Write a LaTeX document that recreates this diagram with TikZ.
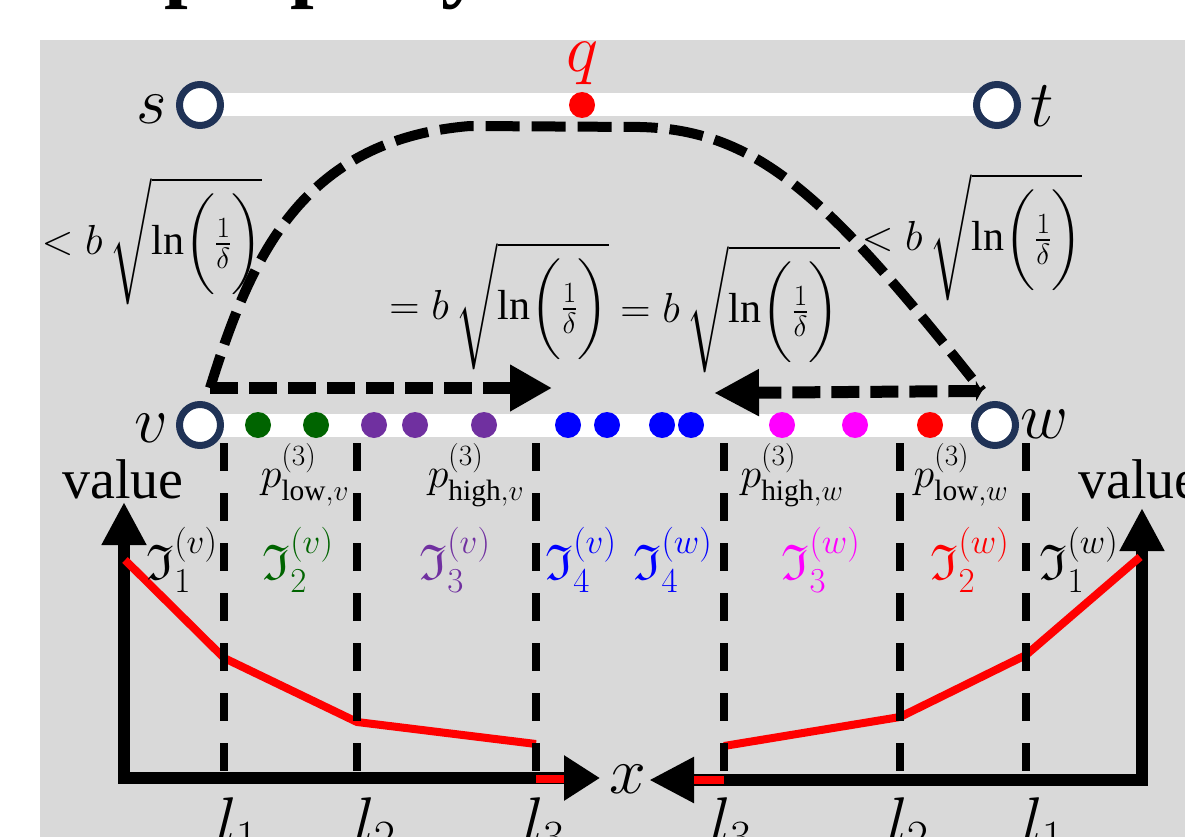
\RequirePackage{fix-cm}
\documentclass[tikz,border=0pt]{standalone}
\usepackage{amsmath,amssymb}
\usepackage{fontspec}
\setmainfont{Liberation Serif}
\DeclareFontFamily{U}{euf}{}
\DeclareFontShape{U}{euf}{m}{n}{<->eufm10}{}
\DeclareFontShape{U}{euf}{b}{n}{<->eufb10}{}
\usetikzlibrary{arrows.meta,backgrounds}
\definecolor{bggray}{HTML}{D9D9D9}
\definecolor{navy}{HTML}{1F3256}
\definecolor{dgreen}{HTML}{006400}
\definecolor{purp}{HTML}{7030A0}
\definecolor{magn}{HTML}{FF00FF}
\newcommand{\myfs}[1]{\fontsize{#1}{#1}\selectfont}
\newcommand{\bnd}[1]{\myfs{42}$#1 b\,\sqrt{\ln\biggl(\frac{1}{\delta}\biggr)}$}
\begin{document}
\begin{tikzpicture}[x=1pt,y=-1pt,
 vert/.style={circle,draw=navy,line width=7pt,fill=white,minimum size=41pt,inner sep=0pt},
 dotc/.style={circle,fill=#1,minimum size=26pt,inner sep=0pt},
 whiteedge/.style={white,line width=23pt},
 curvedash/.style={line width=10pt,dash pattern=on 34pt off 12pt},
 harrow/.style={line width=12pt,dash pattern=on 28pt off 11pt},
 vdash/.style={line width=8pt,dash pattern=on 28pt off 22pt},
 axisline/.style={line width=12pt,line join=miter},
 redline/.style={red,line width=8pt},
 lbl/.style={inner sep=0pt},
]
\useasboundingbox (0,0) rectangle (1185,837);
% vertices
\node[vert] (s) at (200,105) {};
\node[vert] (t) at (997,105) {};
\node[vert] (v) at (200,425) {};
\node[vert] (w) at (995,425) {};
\begin{scope}[on background layer]
 \fill[white] (0,0) rectangle (1185,837);
 \fill[bggray] (40,40) rectangle (1185,837);
 \begin{scope}
  \clip (0,0) rectangle (1185,837);
  \node[lbl,anchor=base west] (title) at (164,-8.5) {\myfs{85}\bfseries property};
 \end{scope}
 \draw[whiteedge] (s.center) -- (t.center);
 \draw[whiteedge] (v.center) -- (w.center);
\end{scope}
% q
\node[dotc=red] (q) at (582,105) {};
\node[lbl,text=red] (ql) at (582,63) {\myfs{68}$q$};
% dots on v-w
\node[dotc=dgreen] (g1) at (258,425) {};
\node[dotc=dgreen] (g2) at (316,425) {};
\node[dotc=purp] (p1) at (374,425) {};
\node[dotc=purp] (p2) at (415,425) {};
\node[dotc=purp] (p3) at (484,425) {};
\node[dotc=blue] (b1) at (568,425) {};
\node[dotc=blue] (b2) at (607,425) {};
\node[dotc=blue] (b3) at (662,425) {};
\node[dotc=blue] (b4) at (691,425) {};
\node[dotc=magn] (m1) at (782,425) {};
\node[dotc=magn] (m2) at (855,425) {};
\node[dotc=red] (r1) at (930,425) {};
% labels of vertices
\node[lbl] (sl) at (152,109) {\myfs{66}$s$};
\node[lbl] (tl) at (1042,106) {\myfs{66}$t$};
\node[lbl] (vl) at (151,428) {\myfs{66}$v$};
\node[lbl] (wl) at (1044,424) {\myfs{66}$w$};
% dashed curve and arrows
\coordinate (cl) at (210,388);
\coordinate (cr) at (982,391);
\coordinate (la) at (552,388);
\coordinate (ra) at (714,393);
\draw[curvedash] (cl) .. controls (250,260) and (300,140) .. (470,126) -- (640,127) .. controls (760,130) and (830,200) .. (cr);
\draw[harrow,-{Triangle[length=42pt,width=44pt]}] (cl) -- (la);
\draw[harrow,{Triangle[length=6pt,width=20pt]}-{Triangle[length=45pt,width=44pt]}] (cr) -- (ra);
% bound labels
\node[lbl] (L1) at (152,241) {\bnd{<}};
\node[lbl] (L2) at (499,306) {\bnd{=}};
\node[lbl] (L3) at (730,309) {\bnd{=}};
\node[lbl] (L4) at (972,237) {\bnd{<}};
% axes
\coordinate (ylt) at (124,502);
\coordinate (o1) at (124,778);
\coordinate (xlt) at (600,778);
\coordinate (yrt) at (1142,508);
\coordinate (o2) at (1142,780);
\coordinate (xrt) at (649,780);
\draw[axisline,{Triangle[length=43pt,width=42pt]}-{Triangle[length=36pt,width=43pt]}] (ylt) -- (o1) -- (xlt);
\draw[axisline,{Triangle[length=43pt,width=42pt]}-{Triangle[length=45pt,width=43pt]}] (yrt) -- (o2) -- (xrt);
\node[lbl] (xl) at (628,779) {\myfs{66}$x$};
% red value curves
\draw[redline] (125,560) -- (224,658) -- (357,722) -- (536,744);
\draw[redline] (724,746) -- (900,717) -- (1026,655) -- (1140,557);
\draw[redline] (536,779) -- (564,779);
\draw[redline] (694,780) -- (724,780);
% vertical dashed lines
\foreach \n/\x in {1/224,2/357,3/536,4/724,5/900,6/1026}{
 \draw[vdash] (\x,443) coordinate (top\n) -- (\x,773) coordinate (bot\n);
}
% value labels
\node[lbl,anchor=base] (val1) at (123,498) {\myfs{56}value};
\node[lbl,anchor=base west] (val2) at (1078,498) {\myfs{56}value};
% p labels
\node[lbl] (pl1) at (305,475) {\myfs{42}$p^{(3)}_{\mathrm{low},v}$};
\node[lbl] (pl2) at (476,475) {\myfs{42}$p^{(3)}_{\mathrm{high},v}$};
\node[lbl] (pl3) at (792,475) {\myfs{42}$p^{(3)}_{\mathrm{high},w}$};
\node[lbl] (pl4) at (961,475) {\myfs{42}$p^{(3)}_{\mathrm{low},w}$};
% fraktur labels
\node[lbl] (i1v) at (182,560) {\myfs{50}$\mathfrak{I}_1^{(v)}$};
\node[lbl,text=dgreen] (i2v) at (298,560) {\myfs{50}$\mathfrak{I}_2^{(v)}$};
\node[lbl,text=purp] (i3v) at (455,560) {\myfs{50}$\mathfrak{I}_3^{(v)}$};
\node[lbl,text=blue] (i4v) at (581,560) {\myfs{50}$\mathfrak{I}_4^{(v)}$};
\node[lbl,text=blue] (i4w) at (673,560) {\myfs{50}$\mathfrak{I}_4^{(w)}$};
\node[lbl,text=magn] (i3w) at (821,560) {\myfs{50}$\mathfrak{I}_3^{(w)}$};
\node[lbl,text=red] (i2w) at (970,560) {\myfs{50}$\mathfrak{I}_2^{(w)}$};
\node[lbl] (i1w) at (1079,560) {\myfs{50}$\mathfrak{I}_1^{(w)}$};
% l labels
\node[lbl,anchor=base] (l1a) at (237,843) {\myfs{66}$l_1$};
\node[lbl,anchor=base] (l2a) at (375,843) {\myfs{66}$l_2$};
\node[lbl,anchor=base] (l3a) at (544,843) {\myfs{66}$l_3$};
\node[lbl,anchor=base] (l3b) at (731,843) {\myfs{66}$l_3$};
\node[lbl,anchor=base] (l2b) at (908,843) {\myfs{66}$l_2$};
\node[lbl,anchor=base] (l1b) at (1043,843) {\myfs{66}$l_1$};
\end{tikzpicture}
\end{document}
